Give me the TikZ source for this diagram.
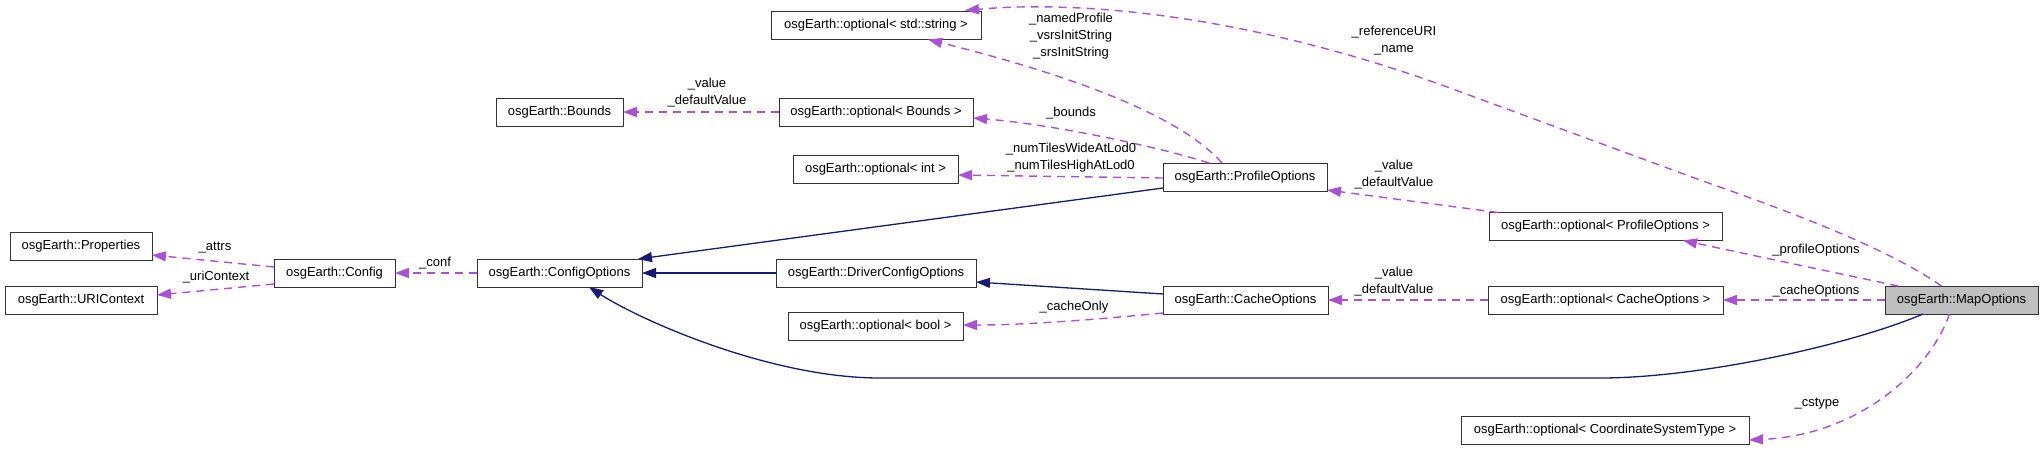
\documentclass[tikz,border=0pt]{standalone}
\usepackage{fontspec}
\setmainfont{Liberation Sans}
\usetikzlibrary{arrows.meta}

\definecolor{usecol}{HTML}{9A32CD}
\definecolor{inhcol}{HTML}{191970}
\definecolor{curfill}{HTML}{BFBFBF}

\tikzset{
  cls/.style={draw=black!80, line width=1pt, fill=white, minimum height=28pt,
    inner sep=0pt, outer sep=0pt, font=\fontsize{13}{15}\selectfont},
  cur/.style={cls, fill=curfill},
  lbl/.style={font=\fontsize{13}{17}\selectfont, align=center, inner sep=0pt},
  use/.style={usecol!85, line width=1.4pt, dash pattern=on 8pt off 6pt,
    -{Triangle[length=14pt,width=10pt]}},
  inh/.style={inhcol, line width=1.3pt, -{Triangle[length=14pt,width=10pt]}},
}

\begin{document}
\begin{tikzpicture}[x=1pt, y=-1pt]
  \useasboundingbox (0,0) rectangle (2043,451);

  % ── Classes ─────────────────────────────────────────────────────────
  \node[cls, minimum width=210pt] (str)     at (876,25.5)   {osgEarth::optional< std::string >};
  \node[cls, minimum width=127pt] (bnd)     at (559.5,112)  {osgEarth::Bounds};
  \node[cls, minimum width=194pt] (optbnd)  at (876,112)    {osgEarth::optional< Bounds >};
  \node[cls, minimum width=165pt] (optint)  at (875.5,169)  {osgEarth::optional< int >};
  \node[cls, minimum width=164pt] (prof)    at (1245,177)   {osgEarth::ProfileOptions};
  \node[cls, minimum width=142pt] (props)   at (81,246.5)   {osgEarth::Properties};
  \node[cls, minimum width=152pt] (uri)     at (81,300)     {osgEarth::URIContext};
  \node[cls, minimum width=121pt] (cfg)     at (334.5,273)  {osgEarth::Config};
  \node[cls, minimum width=165pt] (cfgopt)  at (559.5,273)  {osgEarth::ConfigOptions};
  \node[cls, minimum width=200pt] (drv)     at (876,273)    {osgEarth::DriverConfigOptions};
  \node[cls, minimum width=165pt] (cache)   at (1245.5,300) {osgEarth::CacheOptions};
  \node[cls, minimum width=175pt] (optbool) at (875.5,326.5){osgEarth::optional< bool >};
  \node[cls, minimum width=233pt] (optprof) at (1605.5,226.5){osgEarth::optional< ProfileOptions >};
  \node[cls, minimum width=235pt] (optcache) at (1605.5,300){osgEarth::optional< CacheOptions >};
  \node[cur, minimum width=153pt] (map)     at (1961.5,300) {osgEarth::MapOptions};
  \node[cls, minimum width=288pt] (optcst)  at (1605,430.5) {osgEarth::optional< CoordinateSystemType >};

  % ── Inheritance (solid) ─────────────────────────────────────────────
  \draw[inh] ([yshift=-11pt]prof.west) -- ([xshift=-4pt]cfgopt.north east);
  \draw[inh] (drv.west) -- (cfgopt.east);
  \draw[inh] ([yshift=6pt]cache.west) -- ([yshift=-9pt]drv.east);
  \draw[inh] ([xshift=-38.5pt]map.south) .. controls (1850,345) and (1700,378) .. (1600,378)
    -- (880,378) .. controls (770,378) and (640,320) .. ([xshift=29.5pt]cfgopt.south);

  % ── Members (dashed) ────────────────────────────────────────────────
  \draw[use] ([yshift=6pt]cfg.west) -- ([yshift=-8.5pt]props.east);
  \draw[use] ([yshift=-11pt]cfg.west) -- ([yshift=5pt]uri.east);
  \draw[use] (cfgopt.west) -- (cfg.east);
  \draw[use] (optbnd.west) -- (bnd.east);
  \draw[use] ([xshift=-23pt]prof.north) .. controls (1175,110) and (1050,70) .. ([xshift=52pt]str.south);
  \draw[use] ([xshift=-36pt]prof.north) .. controls (1170,150) and (1060,125) .. ([yshift=-6pt]optbnd.east);
  \draw[use] ([yshift=-1pt]prof.west) -- ([yshift=-6pt]optint.east);
  \draw[use] ([yshift=1pt]cache.south west) .. controls (1080,321) and (1020,325) .. ([yshift=1.5pt]optbool.east);
  \draw[use] ([xshift=9pt]optprof.north west) -- ([yshift=1pt]prof.south east);
  \draw[use] (optcache.west) -- (cache.east);
  \draw[use] ([xshift=-20pt]map.north) .. controls (1890,250) and (1800,215) .. (1700,180)
    -- (1450,88) .. controls (1250,15) and (1080,0) .. ([xshift=-16pt,yshift=1pt]str.north east);
  \draw[use] ([xshift=13pt]map.north west) -- ([xshift=77.5pt]optprof.south);
  \draw[use] (map.west) -- (optcache.east);
  \draw[use] ([xshift=-12pt]map.south) .. controls (1930,370) and (1860,435) .. ([yshift=-9.5pt]optcst.east);

  % ── Member names ────────────────────────────────────────────────────
  \node[lbl] (lattrs)  at (215,248)    {\_attrs};
  \node[lbl] (luri)    at (216,277)    {\_uriContext};
  \node[lbl] (lconf)   at (435,263)    {\_conf};
  \node[lbl] (lbndval) at (707,93)     {\_value\\\_defaultValue};
  \node[lbl] (lstr)    at (1071,36)    {\_namedProfile\\\_vsrsInitString\\\_srsInitString};
  \node[lbl] (lbnds)   at (1071,113)   {\_bounds};
  \node[lbl] (ltiles)  at (1071,158)   {\_numTilesWideAtLod0\\\_numTilesHighAtLod0};
  \node[lbl] (lconly)  at (1074,307)   {\_cacheOnly};
  \node[lbl] (lprfval) at (1394,175)   {\_value\\\_defaultValue};
  \node[lbl] (lchval)  at (1394,281.5) {\_value\\\_defaultValue};
  \node[lbl] (lref)    at (1394,40.5)  {\_referenceURI\\\_name};
  \node[lbl] (lpopt)   at (1816,250)   {\_profileOptions};
  \node[lbl] (lcopt)   at (1816,291)   {\_cacheOptions};
  \node[lbl] (lcst)    at (1817,404)   {\_cstype};
\end{tikzpicture}
\end{document}
